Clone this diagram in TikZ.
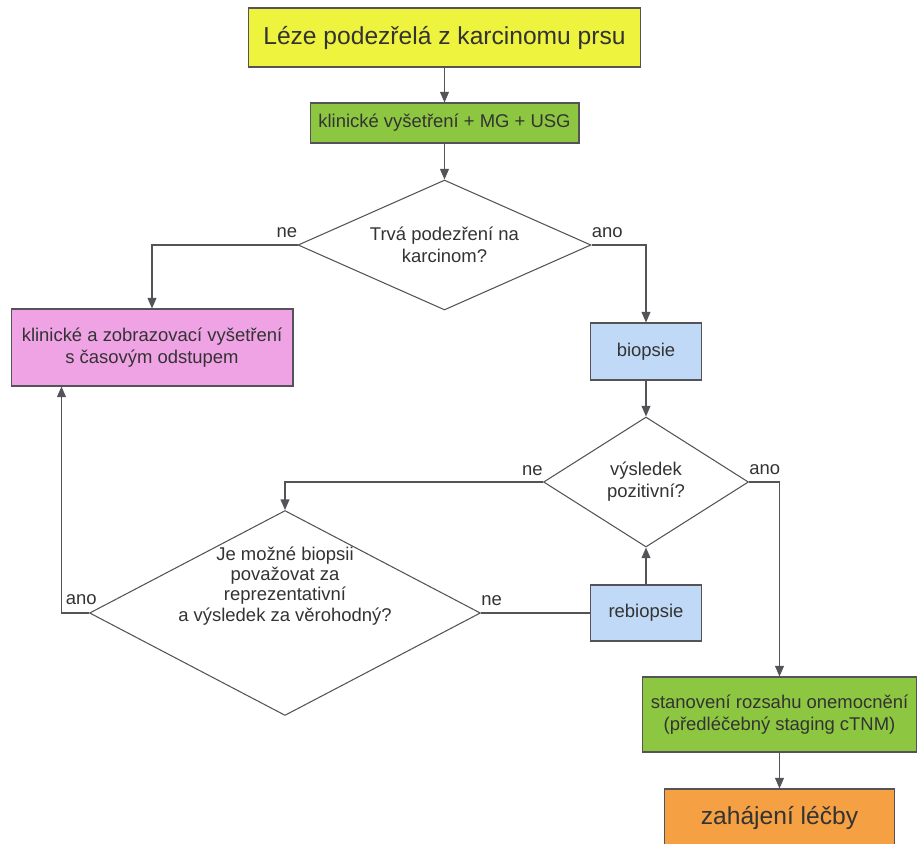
\documentclass[tikz,border=0pt]{standalone}
\usepackage{fontspec}
\setmainfont{Liberation Sans}
\usetikzlibrary{shapes.geometric, arrows.meta}
\definecolor{BoxYellow}{HTML}{EEF33E}
\definecolor{BoxGreen}{HTML}{8DC640}
\definecolor{BoxPink}{HTML}{F0A3E4}
\definecolor{BoxBlue}{HTML}{C0D9F6}
\definecolor{BoxOrange}{HTML}{F5A043}
\definecolor{LineGray}{HTML}{555258}
\definecolor{TextGray}{HTML}{333333}

\begin{document}
\begin{tikzpicture}[x=0.02cm, y=-0.02cm,
    box/.style={draw=LineGray, line width=0.6pt, text=TextGray, align=center,
                inner sep=2pt, font=\fontsize{10.5}{12.5}\selectfont},
    bigbox/.style={box, font=\fontsize{14}{16}\selectfont},
    decision/.style={box, shape=diamond, inner sep=0pt, fill=white},
    flow/.style={draw=LineGray, line width=0.8pt, -{Triangle[length=6pt,width=5pt]}},
    branch/.style={text=TextGray, inner sep=0pt, font=\fontsize{10.5}{12.5}\selectfont}]
    \useasboundingbox (0,0) rectangle (917,843);

    % Boxes
    \node[bigbox, fill=BoxYellow, minimum width=7.86cm, minimum height=1.18cm]
          (lesion) at (444.5,37.5) {Léze podezřelá z karcinomu prsu};
    \node[box, fill=BoxGreen, minimum width=5.38cm, minimum height=0.8cm]
          (exam) at (444.5,123) {klinické vyšetření + MG + USG};
    \node[box, fill=BoxPink, minimum width=5.64cm, minimum height=1.54cm]
          (followup) at (152,347.5) {klinické a zobrazovací vyšetření\\s časovým odstupem};
    \node[box, fill=BoxBlue, minimum width=2.22cm, minimum height=1.14cm]
          (biopsy) at (646,351.5) {biopsie};
    \node[box, fill=BoxBlue, minimum width=2.22cm, minimum height=1.12cm]
          (rebiopsy) at (646,613) {rebiopsie};
    \node[box, fill=BoxGreen, minimum width=5.5cm, minimum height=1.5cm]
          (staging) at (779.5,714.5) {stanovení rozsahu onemocnění\\(předléčebný staging cTNM)};
    \node[bigbox, fill=BoxOrange, minimum width=4.6cm, minimum height=1.16cm]
          (therapy) at (779.5,818) {zahájení léčby};

    % Decisions
    \node[decision, shape aspect=2.25, minimum width=5.86cm, minimum height=2.6cm]
          (suspicion) at (444.5,245) {Trvá podezření na\\karcinom?};
    \node[decision, shape aspect=1.58, minimum width=4.1cm, minimum height=2.6cm]
          (result) at (646,482) {výsledek\\pozitivní?};
    \node[decision, shape aspect=1.9, minimum width=7.82cm, minimum height=4.1cm,
          font=\fontsize{10.5}{11.5}\selectfont]
          (reliable) at (285,613) {\raisebox{15pt}[\height][\depth]{%
            \begin{tabular}{@{}c@{}}Je možné biopsii\\považovat za\\reprezentativní\\a výsledek za věrohodný?\end{tabular}}};

    % Connectors
    \coordinate (followupin) at ([xshift=1.02cm]followup.south west);
    \draw[flow] (lesion) -- (exam);
    \draw[flow] (exam) -- (suspicion);
    \draw[flow] (suspicion.west) -| (followup.north);
    \draw[flow] (suspicion.east) -| (biopsy.north);
    \draw[flow] (biopsy) -- (result);
    \draw[flow] (result.west) -| (reliable.north);
    \draw[flow] (result.east) -| (staging.north);
    \draw[flow] (staging) -- (therapy);
    \draw[flow] (rebiopsy) -- (result.south);
    \draw[flow] (reliable.west) -| (followupin);
    \draw[draw=LineGray, line width=0.8pt] (reliable.east) -- (rebiopsy.west);

    % Branch labels
    \node[branch, anchor=base east] (suspno) at ([yshift=4pt]suspicion.west) {ne};
    \node[branch, anchor=base west] (suspyes) at ([yshift=4pt]suspicion.east) {ano};
    \node[branch, anchor=base east] (resno) at ([yshift=3.5pt]result.west) {ne};
    \node[branch, anchor=base west] (resyes) at ([yshift=4.5pt]result.east) {ano};
    \node[branch, anchor=base east] (relyes) at ([xshift=4.5pt,yshift=5pt]reliable.west) {ano};
    \node[branch, anchor=base west] (relno) at ([yshift=4pt]reliable.east) {ne};
\end{tikzpicture}
\end{document}
